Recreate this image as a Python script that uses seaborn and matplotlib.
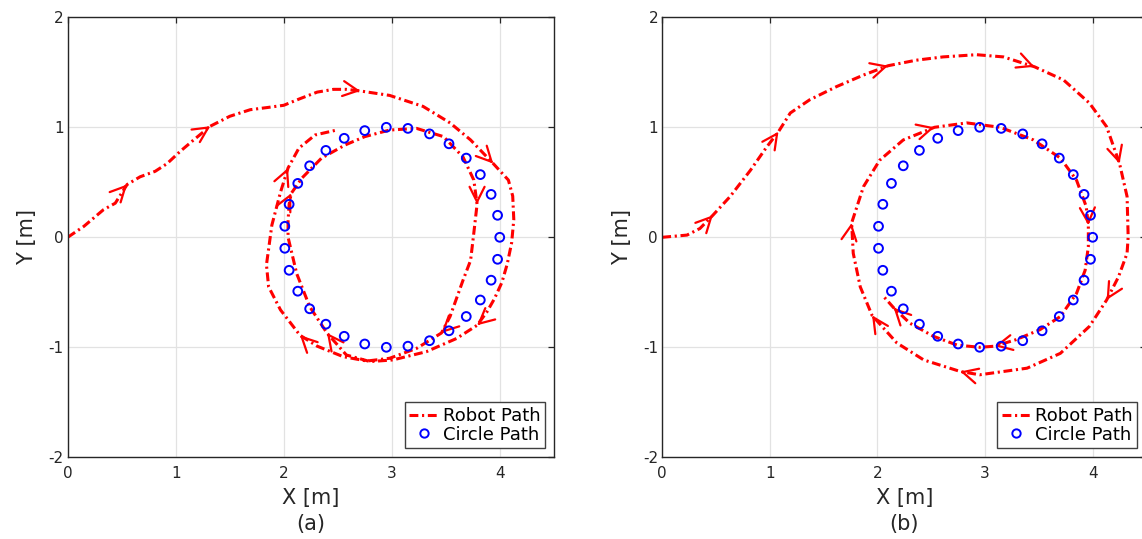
import numpy as np
import matplotlib
matplotlib.use("Agg")
import matplotlib.pyplot as plt
from matplotlib.lines import Line2D
import seaborn as sns

# Reference circle (centre (3, 0), radius 1), sampled points
circle_x = [4.00, 3.98, 3.92, 3.82, 3.69, 3.53, 3.35, 3.15, 2.95, 2.75, 2.56,
            2.39, 2.24, 2.13, 2.05, 2.01, 2.01, 2.05, 2.13, 2.24, 2.39, 2.56,
            2.75, 2.95, 3.15, 3.35, 3.53, 3.69, 3.82, 3.92, 3.98]
circle_y = [0.00, 0.20, 0.39, 0.57, 0.72, 0.85, 0.94, 0.99, 1.00, 0.97, 0.90,
            0.79, 0.65, 0.49, 0.30, 0.10, -0.10, -0.30, -0.49, -0.65, -0.79, -0.90,
            -0.97, -1.00, -0.99, -0.94, -0.85, -0.72, -0.57, -0.39, -0.20]

# Robot trajectory, experiment (a)
path_a_x = [0.00, 0.15, 0.33, 0.44, 0.55, 0.67, 0.81, 0.92, 1.04, 1.16,
            1.32, 1.50, 1.69, 1.85, 2.00, 2.15, 2.31, 2.46, 2.58, 2.71,
            2.98, 3.29, 3.54, 3.73, 3.94, 4.08, 4.12, 4.13, 4.11, 4.07,
            4.02, 3.95, 3.88, 3.79, 3.60, 3.32, 3.01, 2.80, 2.58, 2.40,
            2.24, 2.12, 2.04, 2.04, 2.05, 2.07, 2.17, 2.35, 2.57, 2.75,
            2.98, 3.23, 3.48, 3.66, 3.76, 3.79, 3.76, 3.73, 3.66, 3.54,
            3.46, 3.23, 2.98, 2.77, 2.55, 2.31, 2.15, 1.97, 1.86, 1.84,
            1.89, 1.97, 2.04, 2.14, 2.29, 2.49]
path_a_y = [0.00, 0.10, 0.25, 0.31, 0.48, 0.55, 0.60, 0.67, 0.78, 0.88,
            1.01, 1.10, 1.16, 1.18, 1.20, 1.26, 1.32, 1.345, 1.345, 1.33,
            1.29, 1.19, 1.04, 0.885, 0.67, 0.52, 0.375, 0.16, -0.05, -0.24,
            -0.41, -0.56, -0.68, -0.80, -0.92, -1.04, -1.115, -1.13, -1.07, -0.87,
            -0.63, -0.33, 0.00, 0.15, 0.30, 0.40, 0.54, 0.72, 0.84, 0.915,
            0.975, 0.99, 0.915, 0.73, 0.52, 0.30, 0.04, -0.21, -0.39, -0.72,
            -0.87, -1.01, -1.10, -1.125, -1.085, -0.99, -0.89, -0.66, -0.45, -0.25,
            0.11, 0.41, 0.63, 0.81, 0.93, 0.975]
arrows_a = [4, 10, 19, 24, 33, 39, 45, 55, 60, 66, 72]

# Robot trajectory, experiment (b)
path_b_x = [0.00, 0.23, 0.35, 0.47, 0.63, 0.82, 0.97, 1.08, 1.19, 1.37,
            1.62, 1.87, 2.10, 2.36, 2.61, 2.92, 3.17, 3.46, 3.73, 3.97,
            4.13, 4.25, 4.32, 4.33, 4.32, 4.24, 4.13, 3.97, 3.70, 3.39,
            2.95, 2.77, 2.43, 2.18, 1.95, 1.84, 1.775, 1.76, 1.87, 2.02,
            2.24, 2.53, 2.83, 3.14, 3.45, 3.70, 3.85, 3.94, 3.96, 3.96,
            3.93, 3.85, 3.70, 3.51, 3.29, 3.09, 2.95, 2.74, 2.52, 2.30,
            2.15, 2.05]
path_b_y = [0.00, 0.02, 0.08, 0.20, 0.37, 0.61, 0.82, 0.96, 1.13, 1.25,
            1.37, 1.475, 1.56, 1.61, 1.64, 1.66, 1.64, 1.55, 1.43, 1.22,
            1.005, 0.67, 0.37, 0.005, -0.145, -0.36, -0.57, -0.81, -1.055, -1.19,
            -1.25, -1.22, -1.115, -0.96, -0.71, -0.45, -0.145, 0.13, 0.46, 0.70,
            0.885, 1.00, 1.04, 1.00, 0.885, 0.72, 0.52, 0.28, 0.11, -0.085,
            -0.30, -0.51, -0.72, -0.84, -0.93, -0.99, -1.00, -0.98, -0.90, -0.78,
            -0.64, -0.53]
arrows_b = [3, 7, 12, 17, 21, 26, 31, 34, 37, 41, 48, 55, 60]

x_ticks = [0, 1, 2, 3, 4]
y_ticks = [-2, -1, 0, 1, 2]
panel_tags = ["(a)", "(b)"]
legend_labels = ["Robot Path", "Circle Path"]

DASH = (2.9, 1.2, 0.7, 1.2)
INK = "#262626"

sns.set_theme(style="whitegrid")
plt.rcParams["font.family"] = ["DejaVu Sans"]
plt.rcParams["axes.unicode_minus"] = False

fig = plt.figure(figsize=(11.42, 5.39), dpi=100)
ax_a = fig.add_axes([0.0593, 0.1516, 0.4256, 0.8163])
ax_b = fig.add_axes([0.5799, 0.1516, 0.4240, 0.8163])


def draw_panel(ax, px, py, arrow_idx, tag):
    sns.lineplot(x=px, y=py, sort=False, estimator=None, color="red",
                 lw=2.2, ax=ax, zorder=2)
    path_line = ax.lines[-1]
    path_line.set_dashes(DASH)
    path_line.set_dash_capstyle("butt")

    # open chevrons showing the direction of travel
    pts = np.column_stack([px, py])
    for i in arrow_idx:
        d = pts[min(i + 1, len(pts) - 1)] - pts[i - 1]
        d = d / np.hypot(*d)
        tip = pts[i]
        ax.annotate("", xy=tip, xytext=tip - 0.03 * d,
                    arrowprops=dict(arrowstyle="->,head_length=0.9,head_width=0.45",
                                    color="red", lw=1.6, shrinkA=0, shrinkB=0))

    sns.scatterplot(x=circle_x, y=circle_y, marker="o", s=40,
                    edgecolor="blue", linewidth=1.4, ax=ax, zorder=3)
    ax.collections[-1].set_facecolor("none")
    ax.collections[-1].set_edgecolor("blue")

    ax.set_xlim(0, 4.5)
    ax.set_ylim(-2, 2)
    ax.set_xticks(x_ticks)
    ax.set_yticks(y_ticks)
    ax.grid(True, color="#e2e2e2", lw=0.9)
    ax.set_axisbelow(True)
    ax.tick_params(direction="in", length=4, width=0.9, top=True, right=True,
                   colors=INK, labelsize=11)
    ax.tick_params(axis="x", pad=6)
    ax.tick_params(axis="y", pad=3)
    for s in ax.spines.values():
        s.set_visible(True)
        s.set_color(INK)
        s.set_linewidth(1.0)
    ax.set_xlabel("X [m]\n" + tag, fontsize=15, color=INK, linespacing=1.38,
                  labelpad=5)
    ax.set_ylabel("Y [m]", fontsize=15, color=INK, labelpad=8)

    handles = [
        Line2D([], [], color="red", lw=2.2, dashes=DASH),
        Line2D([], [], ls="none", marker="o", mfc="none", mec="blue",
               mew=1.4, ms=6),
    ]
    leg = ax.legend(handles, legend_labels, loc="lower right", fontsize=13,
                    frameon=True, fancybox=False, edgecolor="#404040",
                    framealpha=1, borderpad=0.25, labelspacing=0.05,
                    handlelength=1.6, handletextpad=0.25, borderaxespad=0.5)
    leg.get_frame().set_linewidth(1.0)
    for t in leg.get_texts():
        t.set_color("black")


draw_panel(ax_a, path_a_x, path_a_y, arrows_a, panel_tags[0])
draw_panel(ax_b, path_b_x, path_b_y, arrows_b, panel_tags[1])

fig.savefig("out.png", dpi=100)
